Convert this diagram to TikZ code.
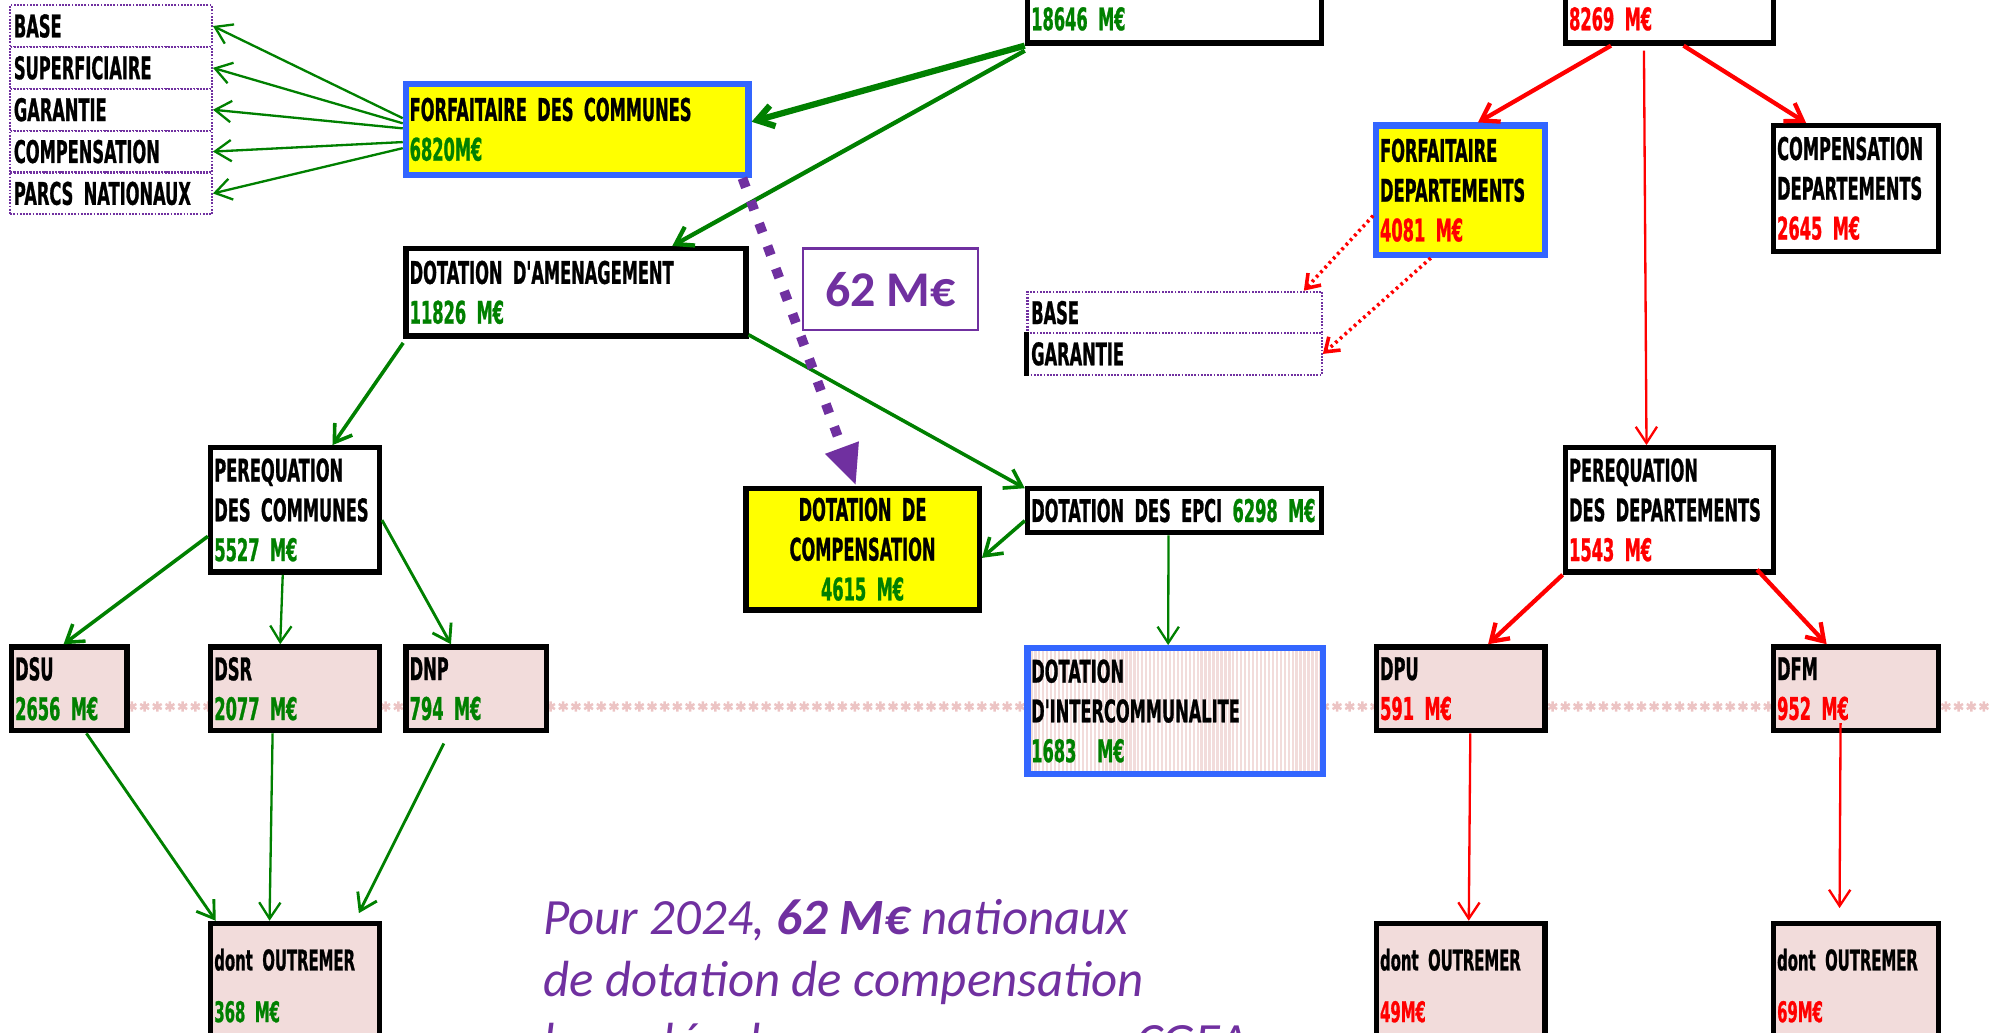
\documentclass[tikz,border=0pt]{standalone}
\usepackage{fontspec}
\usetikzlibrary{arrows.meta}
\newfontfamily\boxfont{DejaVu Sans}[FakeStretch=0.52,FakeBold=0.8]
\newfontfamily\notefont{Carlito}
\definecolor{vgreen}{RGB}{0,128,0}
\definecolor{vred}{RGB}{255,0,0}
\definecolor{vblue}{RGB}{51,102,255}
\definecolor{vyellow}{RGB}{255,255,0}
\definecolor{vpink}{RGB}{242,220,219}
\definecolor{vpurple}{RGB}{112,48,160}
\definecolor{vast}{RGB}{236,196,196}
\tikzset{
  box/.style={draw, line width=3pt, fill=white, inner xsep=0.075cm, inner ysep=0.05cm,
    align=left, font=\boxfont\bfseries\fontsize{17.5}{22.3}\selectfont},
  bluebox/.style={box, draw=vblue, line width=3.5pt, fill=vyellow},
  pinkbox/.style={box, fill=vpink},
  listbox/.style={box, draw=vpurple, line width=1.2pt, dash pattern=on 1pt off 0.8pt},
  smallfont/.style={font=\boxfont\bfseries\fontsize{16}{22.3}\selectfont},
  tag/.style={draw=vpurple, line width=1.3pt, fill=white, text=vpurple,
    font=\notefont\bfseries\fontsize{28}{30}\selectfont, minimum width=3.45cm, minimum height=1.6cm},
  note/.style={inner sep=0pt, align=left, text=vpurple, font=\notefont\itshape\fontsize{28.5}{34.7}\selectfont},
  garrow/.style={draw=vgreen, line width=2pt, -{Straight Barb[length=0.32cm,width=0.42cm]}},
  rarrow/.style={draw=vred, line width=2.4pt, -{Straight Barb[length=0.32cm,width=0.42cm]}},
  slim/.style={line width=1.3pt},
  reddots/.style={draw=vred, line width=2pt, dash pattern=on 1.5pt off 2pt,
    -{Straight Barb[length=0.25cm,width=0.35cm]}},
  transfer/.style={draw=vpurple, line width=5.5pt, dash pattern=on 5.5pt off 8pt,
    -{Triangle[length=0.8cm,width=0.65cm]}},
  ast/.style={draw=vast, line width=1.4pt},
}
\begin{document}
\begin{tikzpicture}[x=0.025cm,y=-0.025cm]
\useasboundingbox (0,0) rectangle (1568,814);
% band of stars
\foreach \x in {104,114,...,1564}
  \draw[ast] (\x,553) -- (\x,561) (\x-3.5,555) -- (\x+3.5,559) (\x-3.5,559) -- (\x+3.5,555);

% communes
\node[box, anchor=south, text width=5.65cm, minimum height=1.9cm, text height=1.4cm, text depth=0pt] (dgfc) at (926,36) {\textcolor{vgreen}{18646~M€}};
\node[listbox, text width=3.825cm, minimum height=0.825cm] (lbase) at (87.5,20.5) {BASE};
\node[listbox, text width=3.825cm, minimum height=0.825cm] (lsup) at (87.5,53.5) {SUPERFICIAIRE};
\node[listbox, text width=3.825cm, minimum height=0.825cm] (lgar) at (87.5,86.5) {GARANTIE};
\node[listbox, text width=3.825cm, minimum height=0.825cm] (lcomp) at (87.5,119.5) {COMPENSATION};
\node[listbox, text width=3.825cm, minimum height=0.825cm] (lparc) at (87.5,152.5) {PARCS~NATIONAUX};
\node[bluebox, text width=6.6cm, minimum height=1.8cm] (forfc) at (455,102) {FORFAITAIRE~DES~COMMUNES\\\textcolor{vgreen}{6820M€}};
\node[box, text width=6.55cm, minimum height=1.725cm] (dam) at (454,230.5) {DOTATION~D'AMENAGEMENT\\\textcolor{vgreen}{11826~M€}};
\node[tag] (sixtytwo) at (702,228) {62 M€};
\node[box, fill=vyellow, align=center, text width=4.45cm, minimum height=2.4cm] (dcomp) at (680,433) {DOTATION~DE\\COMPENSATION\\\textcolor{vgreen}{4615~M€}};
\node[box, text width=5.65cm, minimum height=0.875cm] (epci) at (926,402.5) {DOTATION~DES~EPCI~\textcolor{vgreen}{6298~M€}};
\node[box, draw=vblue, line width=3.5pt, text width=5.675cm, minimum height=2.475cm,
  path picture={\foreach \i in {1,...,74}
    \draw[vpink, line width=1.3pt] ([xshift=\i*0.078cm]path picture bounding box.south west) -- ([xshift=\i*0.078cm]path picture bounding box.north west);}]
  (dinter) at (926.5,560.5) {DOTATION\\D'INTERCOMMUNALITE\\\textcolor{vgreen}{1683~~M€}};
\node[box, text width=3.175cm, minimum height=2.45cm] (pcom) at (232.5,402) {PEREQUATION\\DES~COMMUNES\\\textcolor{vgreen}{5527~M€}};
\node[pinkbox, text width=2.125cm, minimum height=1.65cm] (dsu) at (54.5,543) {DSU\\\textcolor{vgreen}{2656~M€}};
\node[pinkbox, text width=3.175cm, minimum height=1.65cm] (dsr) at (232.5,543) {DSR\\\textcolor{vgreen}{2077~M€}};
\node[pinkbox, text width=2.625cm, minimum height=1.65cm] (dnp) at (375.5,543) {DNP\\\textcolor{vgreen}{794~M€}};
\node[pinkbox, smallfont, text width=3.175cm, minimum height=2.45cm] (omc) at (232.5,777) {dont~OUTREMER\\[6.7pt]\textcolor{vgreen}{368~M€}};

% departements
\node[box, anchor=south, text width=3.95cm, minimum height=1.9cm, text height=1.4cm, text depth=0pt] (dgfd) at (1316,36) {\textcolor{vred}{8269~M€}};
\node[bluebox, text width=3.175cm, minimum height=2.55cm] (fdep) at (1151.5,150) {FORFAITAIRE\\DEPARTEMENTS\\\textcolor{vred}{4081~M€}};
\node[box, text width=3.1cm, minimum height=2.475cm] (cdep) at (1463,148.5) {COMPENSATION\\DEPARTEMENTS\\\textcolor{vred}{2645~M€}};
\node[listbox, text width=5.65cm, minimum height=0.825cm] (base2) at (926,246.5) {BASE};
\node[listbox, text width=5.65cm, minimum height=0.825cm] (gar2) at (926,279) {GARANTIE};
\draw[line width=2.5pt] (gar2.north west) -- (gar2.south west);
\node[box, text width=3.95cm, minimum height=2.45cm] (pdep) at (1316,402) {PEREQUATION\\DES~DEPARTEMENTS\\\textcolor{vred}{1543~M€}};
\node[pinkbox, text width=3.175cm, minimum height=1.65cm] (dpu) at (1151.5,543) {DPU\\\textcolor{vred}{591~M€}};
\node[pinkbox, text width=3.1cm, minimum height=1.65cm] (dfm) at (1463,543) {DFM\\\textcolor{vred}{952~M€}};
\node[pinkbox, smallfont, text width=3.175cm, minimum height=2.45cm] (omd1) at (1151.5,777) {dont~OUTREMER\\[6.7pt]\textcolor{vred}{49M€}};
\node[pinkbox, smallfont, text width=3.1cm, minimum height=2.45cm] (omd2) at (1463,777) {dont~OUTREMER\\[6.7pt]\textcolor{vred}{69M€}};

\node[note, anchor=north west] (note) at (428,709) {Pour 2024, \textbf{62 M€} nationaux\\de dotation de compensation\\basculée des communes aux CGEA};

% green links
\draw[garrow, line width=3.5pt] (dgfc.south west) -- ([yshift=0.15cm]forfc.east);
\draw[garrow, line width=2.4pt] ([yshift=-0.1cm]dgfc.south west) -- ([xshift=1.9cm]dam.north);
\draw[garrow, slim] ([yshift=0.22cm]forfc.west) -- (lbase.east);
\draw[garrow, slim] ([yshift=0.12cm]forfc.west) -- (lsup.east);
\draw[garrow, slim] ([yshift=0.02cm]forfc.west) -- (lgar.east);
\draw[garrow, slim] ([yshift=-0.25cm]forfc.west) -- (lcomp.east);
\draw[garrow, slim] ([yshift=-0.37cm]forfc.west) -- (lparc.east);
\draw[garrow] ([yshift=0.08cm]dam.south east) -- ([yshift=-0.05cm]epci.north west);
\draw[garrow] ([yshift=-0.2cm]epci.west) -- ([yshift=-0.17cm]dcomp.east);
\draw[garrow, slim] ([xshift=-0.12cm]epci.south) -- ([xshift=-0.14cm]dinter.north);
\draw[garrow] ([yshift=-0.08cm]dam.south west) -- ([xshift=0.74cm]pcom.north);
\draw[garrow] ([yshift=-0.52cm]pcom.west) -- ([xshift=-0.11cm]dsu.north);
\draw[garrow, slim] ([xshift=-0.24cm]pcom.south) -- ([xshift=-0.29cm]dsr.north);
\draw[garrow, line width=1.6pt] ([yshift=-0.2cm]pcom.east) -- ([xshift=-0.5cm]dnp.north);
\draw[garrow, line width=1.6pt] ([xshift=0.34cm]dsu.south) -- ([xshift=-1.56cm]omc.north);
\draw[garrow, slim] ([xshift=-0.44cm]dsr.south) -- ([xshift=-0.5cm]omc.north);
\draw[garrow, line width=1.6pt] ([xshift=-0.64cm,yshift=-0.2cm]dnp.south) -- ([xshift=1.26cm,yshift=0.15cm]omc.north);
\draw[transfer] ([xshift=-0.18cm]forfc.south east) -- ([xshift=-0.13cm]dcomp.north);

% red links
\draw[rarrow] ([xshift=-1.15cm]dgfd.south) -- ([xshift=0.34cm]fdep.north);
\draw[rarrow] ([xshift=0.28cm]dgfd.south) -- ([xshift=-0.98cm]cdep.north);
\draw[rarrow, slim] ([xshift=-0.5cm,yshift=-0.1cm]dgfd.south) -- ([xshift=-0.45cm]pdep.north);
\draw[reddots] ([yshift=-0.5cm]fdep.west) -- ([xshift=-0.375cm]base2.north east);
\draw[reddots] ([xshift=-0.59cm]fdep.south) -- (gar2.east);
\draw[rarrow] (pdep.south west) -- ([xshift=0.54cm]dpu.north);
\draw[rarrow] ([xshift=-0.375cm,yshift=0.1cm]pdep.south east) -- ([xshift=-0.575cm]dfm.north);
\draw[rarrow, slim] ([xshift=0.19cm]dpu.south) -- ([xshift=0.16cm]omd1.north);
\draw[rarrow, slim] ([xshift=-0.3cm,yshift=0.2cm]dfm.south) -- ([xshift=-0.32cm,yshift=0.25cm]omd2.north);
\end{tikzpicture}
\end{document}
